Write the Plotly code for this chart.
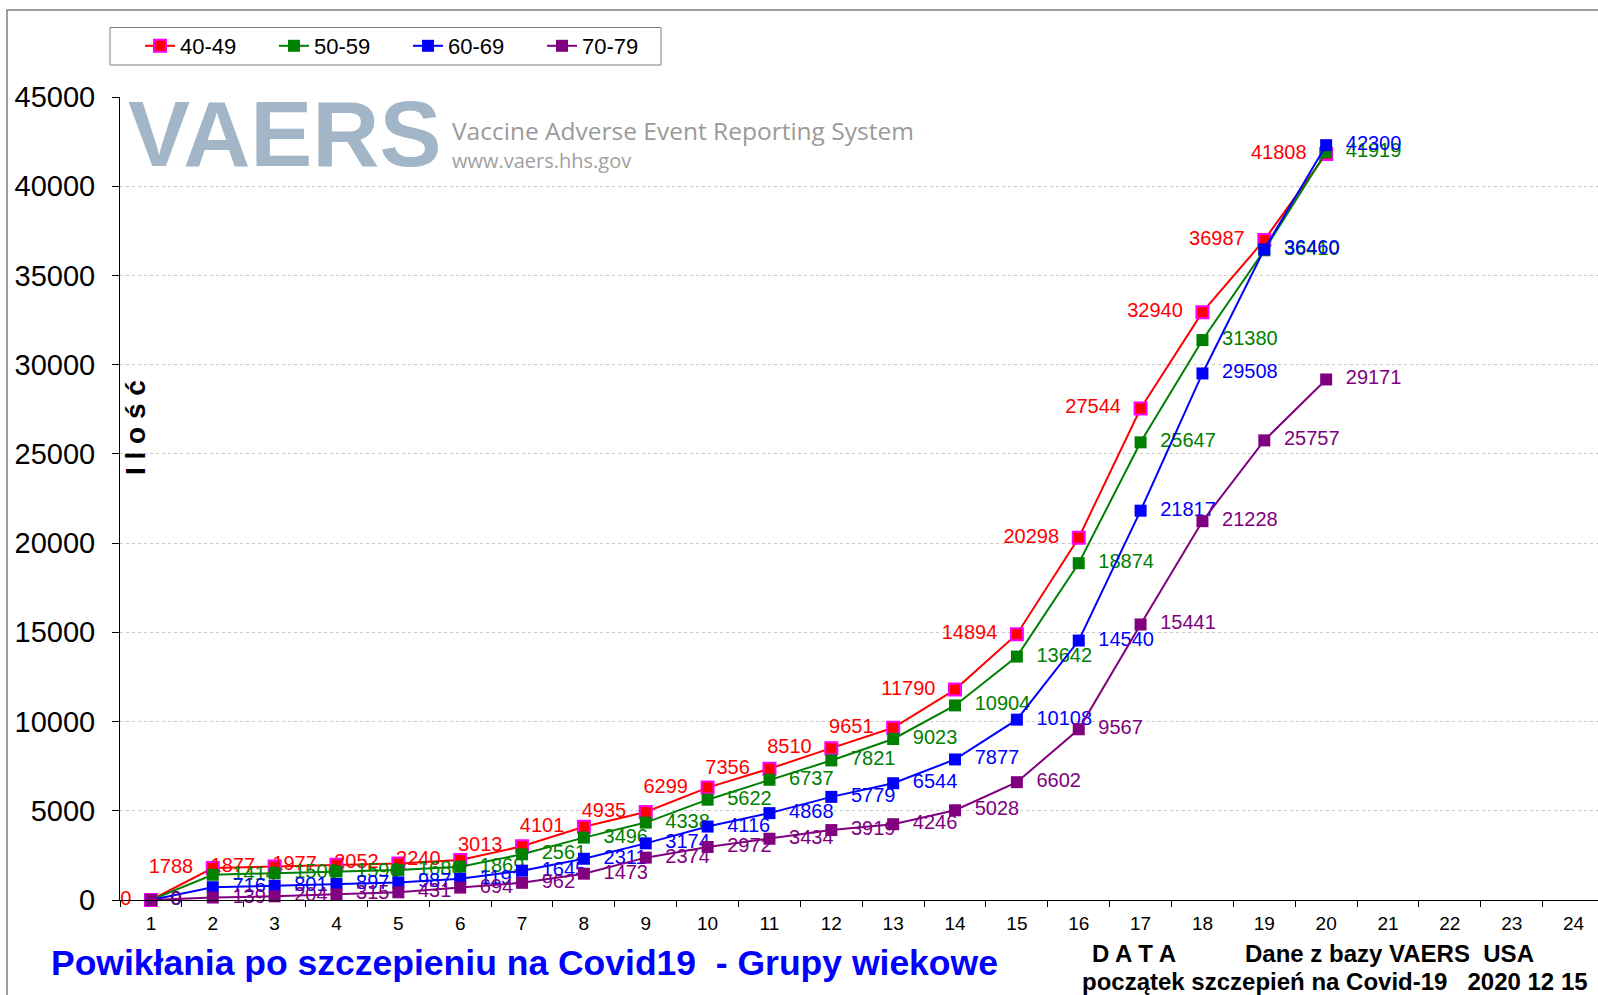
import plotly.graph_objects as go

# ---------------- data ----------------
days = [str(i) for i in range(1, 21)]
all_days = [str(i) for i in range(1, 25)]

series_names = ["40-49", "50-59", "60-69", "70-79"]
v40 = [0, 1788, 1877, 1977, 2052, 2240, 3013, 4101, 4935, 6299, 7356, 8510, 9651,
       11790, 14894, 20298, 27544, 32940, 36987, 41808]
v50 = [0, 1414, 1506, 1596, 1686, 1869, 2561, 3496, 4338, 5622, 6737, 7821, 9023,
       10904, 13642, 18874, 25647, 31380, 36410, 41919]
v60 = [0, 716, 801, 897, 987, 1191, 1645, 2311, 3174, 4116, 4868, 5779, 6544,
       7877, 10108, 14540, 21817, 29508, 36460, 42300]
v70 = [0, 139, 204, 315, 431, 694, 962, 1473, 2374, 2972, 3434, 3919, 4246,
       5028, 6602, 9567, 15441, 21228, 25757, 29171]
y_ticks = list(range(0, 45001, 5000))

# ---------------- figure ----------------
W, H = 1598, 995
L, R, T, B = 120, 0, 97, 95
PW, PH = W - L - R, H - T - B


def px(x):
    return (x - L) / PW


def py(y):
    return (H - B - y) / PH


FONT = "Liberation Sans, Arial, sans-serif"
NB = "\u00a0\u00a0"

specs = [
    (series_names[0], v40, "#ff0000", "#ff0000", "#ff00ff", "middle left"),
    (series_names[1], v50, "#008000", "#008000", "#008000", "middle right"),
    (series_names[2], v60, "#0000ff", "#0000ff", "#0000ff", "middle right"),
    (series_names[3], v70, "#800080", "#800080", "#800080", "middle right"),
]

fig = go.Figure()
for name, vals, col, mfill, mline, tpos in specs:
    if tpos == "middle left":
        txt = [f"{v}{NB}" for v in vals]
    else:
        txt = [f"{NB}{v}" for v in vals]
    fig.add_trace(go.Scatter(
        x=days, y=vals, name=name, mode="lines+markers+text",
        line=dict(color=col, width=2),
        marker=dict(symbol="square", size=12, color=mfill,
                    line=dict(color=mline, width=2 if mline != mfill else 0)),
        text=txt, textposition=tpos,
        textfont=dict(family=FONT, size=20, color=col),
        cliponaxis=False,
    ))

fig.update_layout(
    width=W, height=H,
    margin=dict(l=L, r=R, t=T, b=B),
    paper_bgcolor="white", plot_bgcolor="white",
    font=dict(family=FONT, color="black"),
    showlegend=True,
    legend=dict(orientation="h", x=px(140), y=py(46), xanchor="left", yanchor="middle",
                font=dict(family=FONT, size=22, color="black"),
                bgcolor="rgba(0,0,0,0)", borderwidth=0,
                entrywidth=89, entrywidthmode="pixels"),
    xaxis=dict(type="category", categoryorder="array", categoryarray=all_days,
               range=[-0.5, 23.395], tickson="boundaries", ticks="outside",
               ticklen=6, tickcolor="black", showline=True, linecolor="black",
               linewidth=1, showgrid=False, zeroline=False, ticklabelstandoff=6,
               tickfont=dict(family=FONT, size=19, color="black")),
    yaxis=dict(range=[0, 45000], tickvals=y_ticks, tickformat="d",
               ticks="outside", ticklen=7, tickcolor="black",
               showline=True, linecolor="black", linewidth=1,
               showgrid=True, gridcolor="#c8c8c8", griddash="dot", gridwidth=1,
               zeroline=False, ticklabelstandoff=11,
               tickfont=dict(family=FONT, size=29, color="black")),
)

shapes = [
    # outer border of the chart (cropped on right/bottom)
    dict(type="rect", xref="paper", yref="paper", x0=px(7), x1=px(1700),
         y0=py(1100), y1=py(10), line=dict(color="#808080", width=1.5),
         fillcolor="rgba(0,0,0,0)", layer="below"),
    # legend box
    dict(type="rect", xref="paper", yref="paper", x0=px(110), x1=px(661),
         y0=py(65), y1=py(27.5), line=dict(color="#808080", width=1),
         fillcolor="white", layer="below"),
]
fig.update_layout(shapes=shapes)

ann = [
    dict(text="VAERS", x=px(126), y=py(134), xanchor="left", yanchor="middle",
         font=dict(family=FONT, size=93, color="#a2b6c8", weight="bold")),
    dict(text="Vaccine Adverse Event Reporting System", x=px(450), y=py(130),
         xanchor="left", yanchor="middle",
         font=dict(family="Open Sans, sans-serif", size=24.5, color="#9a9a9a")),
    dict(text="www.vaers.hhs.gov", x=px(450), y=py(160), xanchor="left", yanchor="middle",
         font=dict(family="Open Sans, sans-serif", size=20, color="#a0a0a0")),
    dict(text="<b>I l o ś ć</b>", x=px(135), y=py(428), xanchor="center", yanchor="middle",
         textangle=-90, font=dict(family=FONT, size=28, color="black")),
    dict(text="<b>Powikłania po szczepieniu na Covid19 \u00a0- Grupy wiekowe</b>",
         x=px(49), y=py(963), xanchor="left", yanchor="middle",
         font=dict(family=FONT, size=35.5, color="#0000ff")),
    dict(text="<b>D A T A</b>", x=px(1090), y=py(953), xanchor="left", yanchor="middle",
         font=dict(family=FONT, size=24, color="black")),
    dict(text="<b>Dane z bazy VAERS \u00a0USA</b>", x=px(1243), y=py(953),
         xanchor="left", yanchor="middle",
         font=dict(family=FONT, size=24, color="black")),
    dict(text="<b>początek szczepień na Covid-19 \u00a0\u00a02020 12 15</b>",
         x=px(1080), y=py(981), xanchor="left", yanchor="middle",
         font=dict(family=FONT, size=24, color="black")),
]
for a in ann:
    a.update(xref="paper", yref="paper", showarrow=False)
fig.update_layout(annotations=ann)

fig.write_html("out.html",
               config={"displayModeBar": False},
               post_script="document.body.style.margin='0';"
                           "document.body.style.overflow='hidden';")
